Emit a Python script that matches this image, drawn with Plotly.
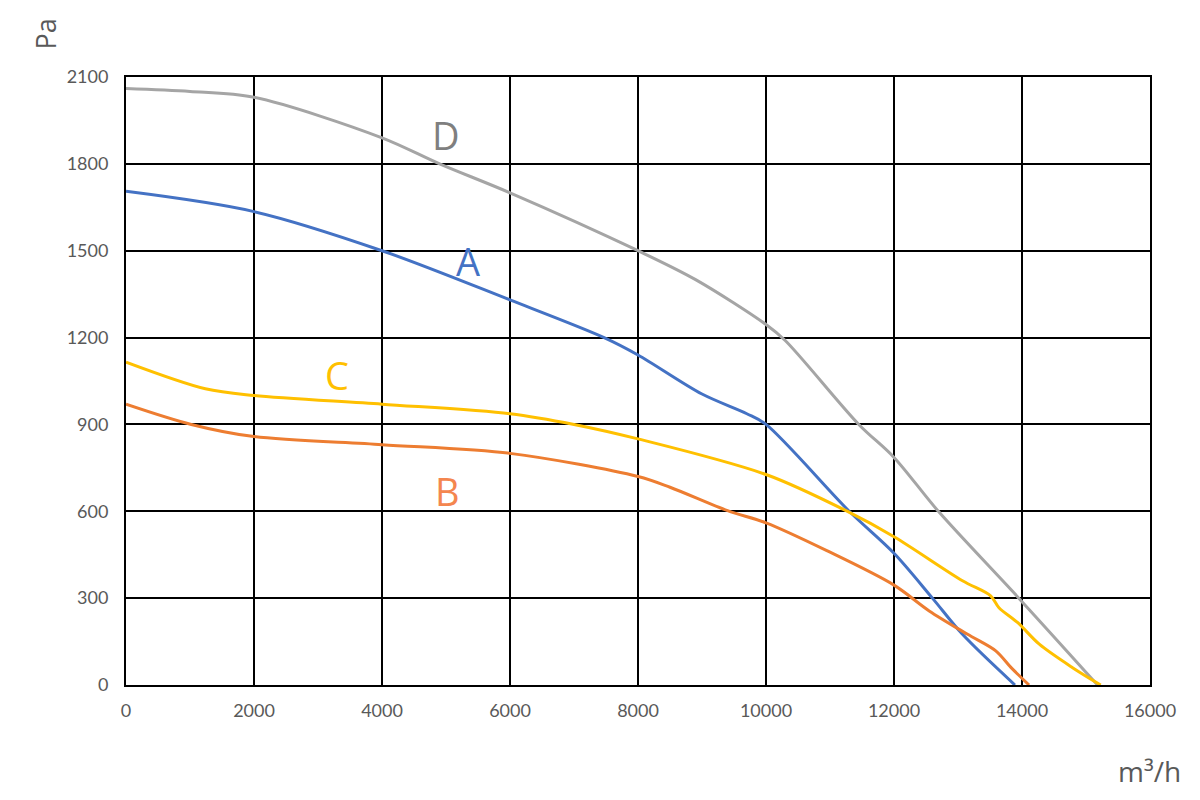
import plotly.graph_objects as go

# Curve data (airflow m³/h, pressure Pa)
d_x = [0, 1000, 2000, 4000, 4900, 6000, 8000, 8900, 10000, 10300, 11450, 12000, 12700, 13950, 15180]
d_y = [2060, 2050, 2030, 1890, 1800, 1700, 1500, 1400, 1245, 1190, 900, 786, 598, 300, 0]

a_x = [0, 2000, 4000, 6000, 7470, 8000, 9000, 9700, 10000, 11300, 12000, 12600, 13070, 13890]
a_y = [1705, 1635, 1500, 1330, 1200, 1140, 1005, 937, 900, 600, 455, 300, 175, 0]

c_x = [0, 1240, 2000, 4000, 6000, 7000, 8000, 10000, 11250, 12000, 13070, 13510, 13640, 13930, 14270, 14790, 15230]
c_y = [1115, 1023, 1000, 970, 937, 900, 850, 727, 602, 512, 360, 308, 267, 216, 141, 60, 0]

b_x = [0, 1020, 2000, 4000, 6000, 8000, 8500, 9400, 10000, 10950, 12000, 12550, 13150, 13590, 13830, 14110]
b_y = [970, 900, 858, 830, 800, 720, 683, 602, 560, 464, 345, 256, 175, 118, 60, 0]

labels = ["D", "A", "C", "B"]
label_x = [5000, 5350, 3300, 5030]
label_y = [1900, 1465, 1070, 670]

x_ticks = [0, 2000, 4000, 6000, 8000, 10000, 12000, 14000, 16000]
y_ticks = [0, 300, 600, 900, 1200, 1500, 1800, 2100]

line_colors = {"D": "#A5A5A5", "A": "#4472C4", "C": "#FFC000", "B": "#ED7D31"}
text_colors = {"D": "#7F7F7F", "A": "#4472C4", "C": "#FFC000", "B": "#F4864F"}

fig = go.Figure()
for name, xs, ys in [("D", d_x, d_y), ("A", a_x, a_y), ("C", c_x, c_y), ("B", b_x, b_y)]:
    fig.add_trace(go.Scatter(x=xs, y=ys, mode="lines", name=name,
                             line=dict(color=line_colors[name], width=3, shape="spline", smoothing=0.9),
                             showlegend=False, hoverinfo="skip"))

for lab, lx, ly in zip(labels, label_x, label_y):
    fig.add_annotation(x=lx, y=ly, text=lab, showarrow=False,
                       font=dict(family="Open Sans, Lato, sans-serif", size=38, color=text_colors[lab]))

fig.add_annotation(xref="paper", yref="paper", x=-0.079, y=1.07, text="Pa", textangle=-90,
                   showarrow=False, xanchor="center", yanchor="middle",
                   font=dict(family="Open Sans, sans-serif", size=27, color="#595959"))
fig.add_annotation(xref="paper", yref="paper", x=1.032, y=-0.142, text="m³/h",
                   showarrow=False, xanchor="right", yanchor="middle",
                   font=dict(family="Open Sans, sans-serif", size=28, color="#595959"))

fig.update_xaxes(range=[0, 16000], tickvals=x_ticks, ticktext=[str(v) for v in x_ticks],
                 showgrid=True, gridcolor="#000000", gridwidth=2,
                 showline=True, linecolor="#000000", linewidth=2, mirror=True,
                 zeroline=False, ticks="", ticklabelstandoff=8,
                 tickfont=dict(family="Lato, sans-serif", size=18, color="#595959"))
fig.update_yaxes(range=[0, 2100], tickvals=y_ticks, ticktext=[str(v) for v in y_ticks],
                 showgrid=True, gridcolor="#000000", gridwidth=2,
                 showline=True, linecolor="#000000", linewidth=2, mirror=True,
                 zeroline=False, ticks="", ticklabelstandoff=12,
                 tickfont=dict(family="Lato, sans-serif", size=18, color="#595959"))

fig.update_layout(width=1200, height=800, plot_bgcolor="white", paper_bgcolor="white",
                  margin=dict(l=118, r=58, t=69, b=123, autoexpand=False))

fig.write_html("out.html")
